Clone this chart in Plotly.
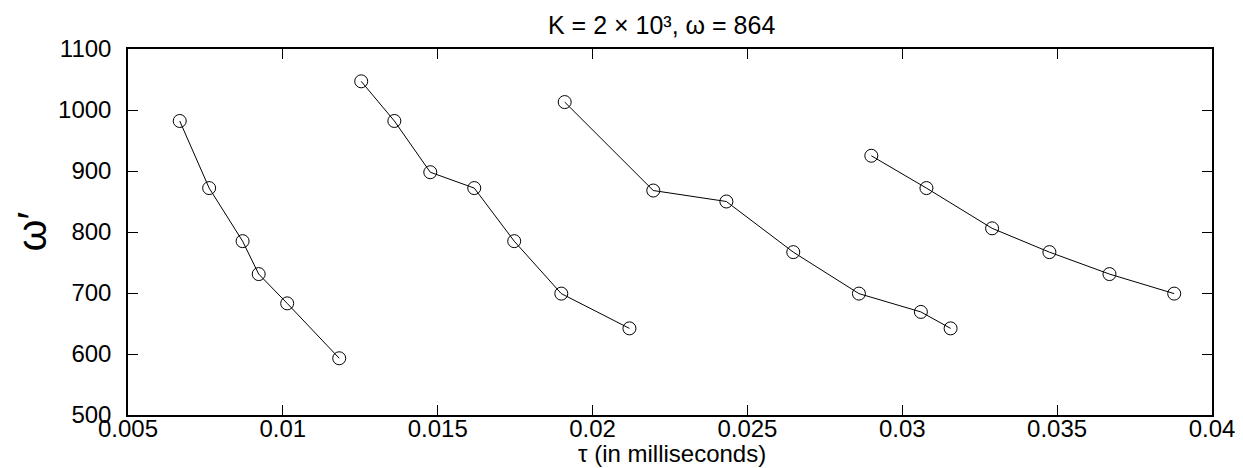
import plotly.graph_objects as go

tau_1 = [0.00667, 0.00762, 0.00870, 0.00922, 0.01014, 0.01182]
omega_1 = [982, 872, 785, 731, 683, 593]

tau_2 = [0.01253, 0.01360, 0.01476, 0.01618, 0.01747, 0.01899, 0.02119]
omega_2 = [1047, 982, 898, 872, 785, 699, 642]

tau_3 = [0.01910, 0.02196, 0.02432, 0.02648, 0.02860, 0.03060, 0.03156]
omega_3 = [1013, 868, 850, 767, 699, 669, 642]

tau_4 = [0.02900, 0.03078, 0.03290, 0.03475, 0.03669, 0.03878]
omega_4 = [925, 872, 806, 767, 731, 699]

x_ticks = [0.005, 0.01, 0.015, 0.02, 0.025, 0.03, 0.035, 0.04]
x_tick_labels = ["0.005", "0.01", "0.015", "0.02", "0.025", "0.03", "0.035", "0.04"]
y_ticks = [500, 600, 700, 800, 900, 1000, 1100]

FONT = "Liberation Sans, Arial, sans-serif"

fig = go.Figure()
for xs, ys in [(tau_1, omega_1), (tau_2, omega_2), (tau_3, omega_3), (tau_4, omega_4)]:
    fig.add_trace(go.Scatter(
        x=xs, y=ys, mode="lines+markers",
        line=dict(color="black", width=1),
        marker=dict(symbol="circle-open", size=13, color="black", line=dict(width=1)),
        showlegend=False,
    ))

fig.update_layout(
    width=1243, height=468,
    margin=dict(l=120, r=39, t=41, b=61, autoexpand=False),
    paper_bgcolor="white", plot_bgcolor="white",
    font=dict(family=FONT, color="black"),
    annotations=[
        dict(text="K = 2 × 10³, ω = 864", xref="paper", yref="paper",
             x=0.4925, y=1.066, xanchor="center", yanchor="middle", showarrow=False,
             font=dict(size=25, family=FONT)),
        dict(text="τ (in milliseconds)", xref="paper", yref="paper",
             x=0.502, y=-0.104, xanchor="center", yanchor="middle", showarrow=False,
             font=dict(size=24, family=FONT)),
        dict(text="ω′", xref="paper", yref="paper", textangle=-90,
             x=-0.089, y=0.5, xanchor="center", yanchor="middle", showarrow=False,
             font=dict(size=41, family=FONT)),
    ],
)
fig.update_xaxes(
    range=[0.005, 0.04], tickvals=x_ticks, ticktext=x_tick_labels,
    ticks="inside", ticklen=10, tickwidth=1, tickcolor="black",
    showline=True, linecolor="black", linewidth=1.5, mirror="ticks",
    showgrid=False, zeroline=False, automargin=False,
    tickfont=dict(size=24, family=FONT), ticklabelstandoff=-9,
)
fig.update_yaxes(
    range=[500, 1100], tickvals=y_ticks,
    ticks="inside", ticklen=10, tickwidth=1, tickcolor="black",
    showline=True, linecolor="black", linewidth=1.5, mirror="ticks",
    showgrid=False, zeroline=False, automargin=False,
    tickfont=dict(size=24, family=FONT), ticklabelstandoff=10,
)

fig.write_html("out.html")
